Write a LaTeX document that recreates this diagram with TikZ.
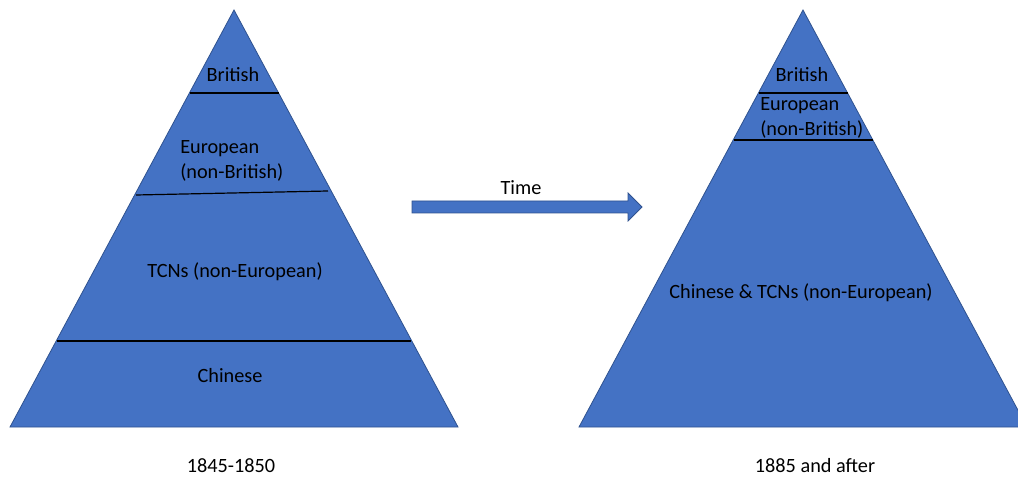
\documentclass[tikz,border=0pt]{standalone}
\usepackage{fontspec}
\setmainfont{Carlito}
\definecolor{pyrfill}{HTML}{4472C4}
\definecolor{pyredge}{HTML}{2F528F}
\begin{document}
\begin{tikzpicture}[x=0.75pt,y=-0.75pt,
  layer/.style={fill=pyrfill,draw=pyredge,line width=0.6pt,line join=miter},
  divider/.style={draw=black,line width=0.9pt},
  lbl/.style={font=\fontsize{15.2}{18.75}\selectfont,inner sep=0pt,align=center},
  twoline/.style={lbl,align=left,anchor=west},
  caption/.style={font=\fontsize{15.2}{18}\selectfont,inner sep=0pt}]
\useasboundingbox (0,0) rectangle (1018,477);

% left pyramid: 1845-1850
\draw[layer] (234,10) -- (458,427) -- (10,427) -- cycle;
\draw[divider] (190,93) -- (279,93);
\draw[divider] (136,195) -- (328,191);
\draw[divider] (57,341) -- (411,341);
\node[lbl] (lbrit) at (233,75) {British};
\node[twoline] (leuro) at (180,161) {European\\(non-British)};
\node[lbl] (ltcn)  at (235,272) {TCNs (non-European)};
\node[lbl] (lchin) at (230,376) {Chinese};
\node[caption] (lyear) at (231,466) {1845-1850};

% time arrow
\draw[fill=pyrfill,draw=pyredge,line width=0.6pt]
  (412,201) -- (628,201) -- (628,193) -- (642,207) -- (628,221) -- (628,213) -- (412,213) -- cycle;
\node[lbl] (time) at (521,188) {Time};

% right pyramid: 1885 and after
\begin{scope}
\clip (0,0) rectangle (1018,477);
\draw[layer] (803,10) -- (1027,427) -- (579,427) -- cycle;
\end{scope}
\draw[divider] (759,93) -- (848,93);
\draw[divider] (734,140) -- (873,140);
\node[lbl] (rbrit) at (802,75) {British};
\node[twoline] (reuro) at (760,118) {European\\(non-British)};
\node[lbl] (rmix) at (801,293) {Chinese \& TCNs (non-European)};
\node[caption] (ryear) at (815,466) {1885 and after};
\end{tikzpicture}
\end{document}
